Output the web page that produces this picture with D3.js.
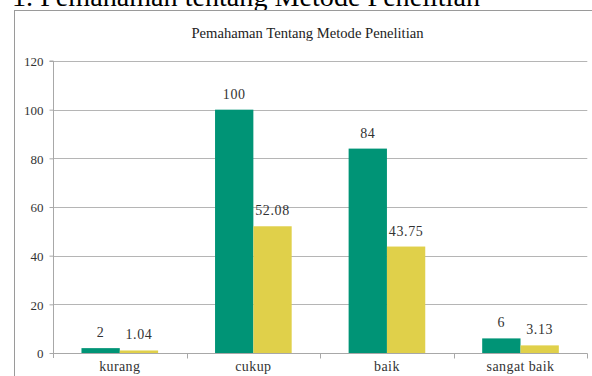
<!DOCTYPE html>
<html>
<head>
<meta charset="utf-8">
<script src="https://cdn.jsdelivr.net/npm/d3@7"></script>
<style>
  html, body { margin: 0; padding: 0; background: #fff; overflow: hidden; }
  svg { display: block; }
</style>
</head>
<body>
<svg id="chart" width="592" height="376"></svg>
<script>
// Categories, series and axis ticks
const categories = ["kurang", "cukup", "baik", "sangat baik"];
const seriesNames = ["Frekuensi", "Persentase"];
const frekuensi = [2, 100, 84, 6];
const persentase = [1.04, 52.08, 43.75, 3.13];
const yTicks = [0, 20, 40, 60, 80, 100, 120];
const heading = "1. Pemahaman tentang Metode Penelitian";
const chartTitle = "Pemahaman Tentang Metode Penelitian";

const colors = ["#009476", "#e0d04a"];
const labelFont = "'Liberation Serif', 'DejaVu Serif', serif";

const svg = d3.select("#chart");

// Document heading above the chart frame (partly cut off at the top)
svg.append("text")
  .attr("x", 12).attr("y", 6)
  .attr("font-family", "'Liberation Serif', 'Times New Roman', serif")
  .attr("font-size", 28)
  .attr("textLength", 468)
  .attr("lengthAdjust", "spacingAndGlyphs")
  .attr("fill", "#000")
  .text(heading);

// Chart frame
svg.append("rect")
  .attr("x", 14.5).attr("y", 10.5)
  .attr("width", 586).attr("height", 380)
  .attr("fill", "#fff")
  .attr("stroke", "#9a9a9a").attr("stroke-width", 1);

// Chart title
svg.append("text")
  .attr("x", 307.5).attr("y", 38)
  .attr("text-anchor", "middle")
  .attr("font-family", labelFont)
  .attr("font-size", 14.5)
  .attr("textLength", 232)
  .attr("lengthAdjust", "spacingAndGlyphs")
  .attr("fill", "#222")
  .text(chartTitle);

const plot = { left: 53, right: 587.3, top: 61, bottom: 353 };

const y = d3.scaleLinear().domain([0, 120]).range([plot.bottom, plot.top]);
const x0 = d3.scaleBand().domain(categories).range([plot.left, plot.right]).padding(0);
const x1 = d3.scaleBand().domain(seriesNames).range([0, x0.bandwidth()])
  .paddingInner(0).paddingOuter(0.743);

// Horizontal gridlines
svg.append("g")
  .selectAll("line")
  .data(yTicks)
  .join("line")
  .attr("x1", plot.left).attr("x2", plot.right)
  .attr("y1", d => Math.round(y(d)) + 0.5).attr("y2", d => Math.round(y(d)) + 0.5)
  .attr("stroke", "#b5b5b5").attr("stroke-width", 1);

// Y axis
const yAxis = svg.append("g")
  .attr("transform", `translate(${plot.left + 0.5},0)`)
  .call(d3.axisLeft(y).tickValues(yTicks).tickSize(4).tickPadding(6));
yAxis.select(".domain").attr("stroke", "#a8a8a8")
  .attr("d", `M-4,${plot.top}H0V${plot.bottom + 5}`);
yAxis.selectAll(".tick line").attr("stroke", "#a8a8a8");
yAxis.selectAll(".tick text")
  .attr("font-family", labelFont).attr("font-size", 13).attr("fill", "#333")
  .attr("dy", "0.36em");

// X axis with tick marks on category boundaries
const xAxis = svg.append("g")
  .attr("transform", `translate(0,${Math.round(plot.bottom) + 0.5})`)
  .call(d3.axisBottom(x0).tickSize(0).tickPadding(8));
xAxis.select(".domain").attr("stroke", "#a8a8a8")
  .attr("d", `M${plot.left},0H${plot.right}`);
xAxis.selectAll(".tick text")
  .attr("font-family", labelFont).attr("font-size", 14).attr("fill", "#333")
  .attr("letter-spacing", 0.4);
xAxis.selectAll(".boundary")
  .data(categories)
  .join("line")
  .attr("class", "boundary")
  .attr("x1", d => Math.round(x0(d) + x0.bandwidth()) + 0.5)
  .attr("x2", d => Math.round(x0(d) + x0.bandwidth()) + 0.5)
  .attr("y1", 0).attr("y2", 5)
  .attr("stroke", "#a8a8a8");

// Bars grouped by category
const rows = categories.map((c, i) => ({
  category: c,
  values: [
    { series: seriesNames[0], value: frekuensi[i], label: String(frekuensi[i]) },
    { series: seriesNames[1], value: persentase[i], label: persentase[i].toFixed(2) }
  ]
}));

const groups = svg.append("g")
  .selectAll("g")
  .data(rows)
  .join("g")
  .attr("transform", d => `translate(${x0(d.category)},0)`);

groups.selectAll("rect")
  .data(d => d.values)
  .join("rect")
  .attr("x", d => x1(d.series))
  .attr("width", x1.bandwidth())
  .attr("y", d => y(d.value))
  .attr("height", d => plot.bottom - y(d.value))
  .attr("fill", (d, i) => colors[i]);

// Value labels above each bar
groups.selectAll("text")
  .data(d => d.values)
  .join("text")
  .attr("x", d => x1(d.series) + x1.bandwidth() / 2)
  .attr("y", d => y(d.value) - 11)
  .attr("text-anchor", "middle")
  .attr("font-family", labelFont)
  .attr("font-size", 14)
  .attr("fill", "#333")
  .attr("letter-spacing", 0.6)
  .text(d => d.label);
</script>
</body>
</html>
